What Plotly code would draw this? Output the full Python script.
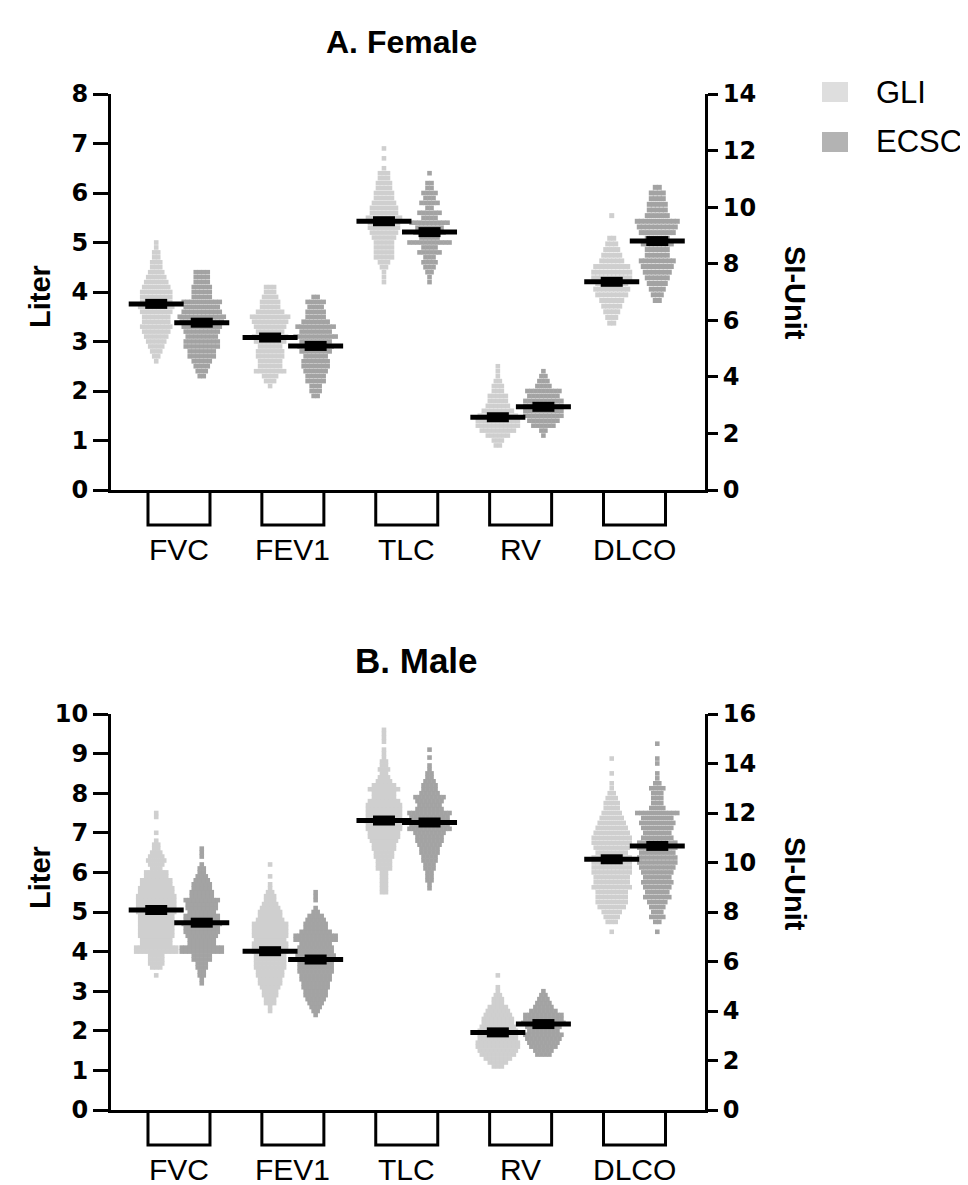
import plotly.graph_objects as go

# ---------------- data ----------------
categories = ["FVC", "FEV1", "TLC", "RV", "DLCO"]
groups = ["GLI", "ECSC"]

# Each swarm: lowest bin value, bin step, point counts per bin (bottom -> top)
# Female (Liter; DLCO in SI-Unit)
f_fvc_gli = (2.6, 0.1, [1,2,3,4,5,6,7,8,7,7,8,9,8,8,8,7,6,5,4,3,3,2,2,1,1])
f_fvc_ecsc = (2.3, 0.1, [2,3,4,5,7,7,9,9,8,9,10,11,12,10,9,10,5,5,5,4,4,4])
f_fev1_gli = (2.1, 0.1, [1,3,4,8,6,6,7,7,6,8,9,7,8,9,10,7,5,5,4,3,3])
f_fev1_ecsc = (1.9, 0.1, [2,3,3,5,5,6,7,7,6,8,9,8,11,8,10,7,5,5,4,5,2])
f_tlc_gli = (4.2, 0.1, [1,1,1,2,3,5,5,5,5,6,7,8,8,9,7,7,6,5,5,4,4,3,3,1,0,1,0,1])
f_tlc_ecsc = (4.2, 0.1, [1,1,2,3,4,3,6,4,11,5,8,7,10,4,6,2,5,3,4,2,2,0,1])
f_rv_gli = (0.9, 0.1, [2,3,6,9,11,11,10,8,6,5,5,3,3,2,1,1,1])
f_rv_ecsc = (1.1, 0.1, [1,2,6,8,10,10,10,10,8,9,4,3,2,1])
f_dlco_gli = (5.9, 0.2, [2,3,4,5,6,8,9,8,10,10,9,6,5,4,3,2,0,0,0,1])
f_dlco_ecsc = (6.7, 0.2, [2,3,4,5,6,7,8,9,6,6,8,6,9,10,11,6,5,5,4,4,2])

# Male
m_fvc_gli = (3.4, 0.1, [1,0,3,4,4,4,11,11,8,8,9,9,9,9,9,9,10,10,10,10,10,9,9,8,8,6,6,3,4,5,4,3,2,2,1,0,1,0,0,0,1,1])
m_fvc_ecsc = (3.2, 0.1, [1,1,2,2,3,3,5,5,11,11,7,7,8,9,9,10,9,9,7,8,8,9,6,6,5,5,4,3,2,2,1,0,1,1,1])
m_fev1_gli = (2.5, 0.1, [1,1,3,3,4,4,5,6,6,7,7,8,8,8,8,9,9,9,8,9,9,9,9,7,6,6,5,4,3,3,2,1,1,0,1,0,0,1])
m_fev1_ecsc = (2.4, 0.1, [1,2,3,4,5,6,6,7,7,8,8,9,9,9,10,10,9,9,8,11,11,8,6,6,5,4,2,1,0,1,1,1])
m_tlc_gli = (5.5, 0.1, [2,2,2,2,2,2,4,4,4,5,5,6,6,7,8,8,9,9,10,9,9,9,9,8,6,6,8,6,4,3,2,3,2,2,1,1,1,0,1,1,1,1])
m_tlc_ecsc = (5.6, 0.1, [1,1,2,2,2,3,3,4,4,5,5,6,7,7,8,11,10,10,10,11,7,6,7,8,5,4,4,3,2,2,1,1,0,1,0,1])
m_rv_gli = (1.1, 0.1, [3,5,7,9,10,11,11,10,10,10,9,8,8,7,6,5,3,3,2,1,1,0,0,1])
m_rv_ecsc = (1.4, 0.1, [4,5,7,8,9,10,8,9,11,10,10,7,5,4,3,2,1])
m_dlco_gli = (7.2, 0.2, [1,0,3,4,5,7,8,8,8,10,9,9,10,10,10,10,8,9,10,10,9,8,7,6,5,4,4,3,2,1,1,0,1,0,0,1])
m_dlco_ecsc = (7.2, 0.2, [1,0,2,4,3,4,5,7,6,7,8,7,8,9,10,10,9,10,10,8,7,8,9,8,11,4,3,3,3,4,2,1,1,0,1,1,0,0,1])

# Means (FVC..RV in Liter, DLCO in SI-Unit)
f_mean_gli = [3.76, 3.08, 5.43, 1.47, 7.36]
f_mean_ecsc = [3.38, 2.91, 5.21, 1.68, 8.80]
m_mean_gli = [5.05, 4.01, 7.31, 1.96, 10.13]
m_mean_ecsc = [4.73, 3.80, 7.26, 2.17, 10.67]

female = [[f_fvc_gli, f_fvc_ecsc], [f_fev1_gli, f_fev1_ecsc], [f_tlc_gli, f_tlc_ecsc],
          [f_rv_gli, f_rv_ecsc], [f_dlco_gli, f_dlco_ecsc]]
male = [[m_fvc_gli, m_fvc_ecsc], [m_fev1_gli, m_fev1_ecsc], [m_tlc_gli, m_tlc_ecsc],
        [m_rv_gli, m_rv_ecsc], [m_dlco_gli, m_dlco_ecsc]]

# ---------------- layout constants ----------------
W, H = 968, 1185
OFF = 8  # page body margin offset
X0_PX, X1_PX = 111 - OFF, 705 - OFF
XR = [-0.597, 4.619]
PX_PER_UNIT = (X1_PX - X0_PX) / (XR[1] - XR[0])
PAIR_OFF = 0.2
PT_PX = 4.0
COL_PTS = {"GLI": "#cfcfcf", "ECSC": "#a3a3a3"}
COL_LEG = {"GLI": "#dedede", "ECSC": "#b3b3b3"}
FONT = "Liberation Sans, Arial, sans-serif"
TICKFONT = "DejaVu Sans, sans-serif"

A_TOP, A_BOT = 94 - OFF, 490 - OFF
B_TOP, B_BOT = 714 - OFF, 1110 - OFF


def px(x):
    return (x - OFF) / W


def py(y):
    return 1 - (y - OFF) / H


def swarm(center, spec):
    lo, step, counts = spec
    xs, ys = [], []
    for i, n in enumerate(counts):
        v = round(lo + i * step, 3)
        for k in range(n):
            xs.append(center + (k - (n - 1) / 2) * PT_PX / PX_PER_UNIT)
            ys.append(v)
    return xs, ys


fig = go.Figure()


def add_panel(data, mean_gli, mean_ecsc, xa, ya_l, ya_r, msize_l, msize_r):
    for ci, pair in enumerate(data):
        ya = ya_r if categories[ci] == "DLCO" else ya_l
        ms = msize_r if categories[ci] == "DLCO" else msize_l
        for gi, g in enumerate(groups):
            c = ci + (-PAIR_OFF if gi == 0 else PAIR_OFF)
            xs, ys = swarm(c, pair[gi])
            fig.add_trace(go.Scatter(
                x=xs, y=ys, mode="markers", xaxis=xa, yaxis=ya, showlegend=False,
                marker=dict(symbol="square", size=ms, color=COL_PTS[g], line=dict(width=0)),
                hoverinfo="skip"))
    for ci in range(len(categories)):
        ya = ya_r if categories[ci] == "DLCO" else ya_l
        for gi, means in enumerate([mean_gli, mean_ecsc]):
            c = ci + (-PAIR_OFF if gi == 0 else PAIR_OFF)
            m = means[ci]
            hw = 27.5 / PX_PER_UNIT
            hc = 11 / PX_PER_UNIT
            fig.add_trace(go.Scatter(x=[c - hw, c + hw], y=[m, m], mode="lines", xaxis=xa, yaxis=ya,
                                     line=dict(color="black", width=5), showlegend=False, hoverinfo="skip"))
            fig.add_trace(go.Scatter(x=[c - hc, c + hc], y=[m, m], mode="lines", xaxis=xa, yaxis=ya,
                                     line=dict(color="black", width=10), showlegend=False, hoverinfo="skip"))


add_panel(female, f_mean_gli, f_mean_ecsc, "x", "y", "y2", 4.6, 5.0)
add_panel(male, m_mean_gli, m_mean_ecsc, "x2", "y3", "y4", 4.6, 4.6)

dom_x = [X0_PX / W, X1_PX / W]
dom_a = [1 - A_BOT / H, 1 - A_TOP / H]
dom_b = [1 - B_BOT / H, 1 - B_TOP / H]

tickfont = dict(family=TICKFONT, size=24, color="black", weight="bold")
xcommon = dict(range=XR, showline=True, linewidth=3, linecolor="black", showgrid=False,
               zeroline=False, showticklabels=False, ticks="", domain=dom_x, fixedrange=True,
               automargin=False)
ycommon = dict(showline=True, linewidth=3, linecolor="black", showgrid=False, zeroline=False,
               ticks="outside", tickwidth=3, tickcolor="black", tickfont=tickfont, fixedrange=True,
               automargin=False)

fig.update_layout(
    width=W, height=H, autosize=False,
    margin=dict(l=0, r=0, t=0, b=0, pad=0),
    plot_bgcolor="white", paper_bgcolor="white",
    showlegend=False,
    xaxis=dict(**xcommon, anchor="y"),
    yaxis=dict(**ycommon, domain=dom_a, range=[0, 8], dtick=1, ticklen=15, anchor="x"),
    yaxis2=dict(**ycommon, domain=dom_a, range=[0, 14], dtick=2, ticklen=10, side="right",
                overlaying="y", anchor="x"),
    xaxis2=dict(**xcommon, anchor="y3"),
    yaxis3=dict(**ycommon, domain=dom_b, range=[0, 10], dtick=1, ticklen=15, anchor="x2"),
    yaxis4=dict(**ycommon, domain=dom_b, range=[0, 16], dtick=2, ticklen=10, side="right",
                overlaying="y3", anchor="x2"),
)

# category brackets and labels
box_hw = 31 / PX_PER_UNIT
box_d = 35 / (A_BOT - A_TOP)
shapes = []
annotations = []
for xa, ya in [("x", "y"), ("x2", "y3")]:
    for ci, cat in enumerate(categories):
        x0, x1 = ci - box_hw, ci + box_hw
        shapes.append(dict(type="path", xref=xa, yref=f"{ya} domain",
                           path=f"M {x0},0 L {x0},{-box_d} L {x1},{-box_d} L {x1},0",
                           line=dict(color="black", width=3)))
        annotations.append(dict(x=ci, y=0, xref=xa, yref=f"{ya} domain", yshift=-59,
                                text=cat, showarrow=False, xanchor="center", yanchor="middle",
                                font=dict(family=FONT, size=30, color="black")))


def label(x, y, text, size, angle=0, xanchor="center", bold=False):
    annotations.append(dict(x=px(x), y=py(y), xref="paper", yref="paper",
                            text=f"<b>{text}</b>" if bold else text, textangle=angle,
                            showarrow=False, xanchor=xanchor, yanchor="middle",
                            font=dict(family=FONT, size=size, color="black")))


# titles
label(401, 42, "A. Female", 32, bold=True)
label(416, 660, "B. Male", 35, bold=True)
# axis titles
label(40, 297, "Liter", 29, angle=-90, bold=True)
label(40, 878, "Liter", 29, angle=-90, bold=True)
label(795, 293, "SI-Unit", 29, angle=90, bold=True)
label(795, 884, "SI-Unit", 29, angle=90, bold=True)

# legend
for g, yc in [("GLI", 92), ("ECSC", 142)]:
    shapes.append(dict(type="rect", xref="paper", yref="paper",
                       x0=px(822), x1=px(848), y0=py(yc + 10), y1=py(yc - 10),
                       fillcolor=COL_LEG[g], line=dict(width=0)))
    label(874, yc, g, 31, xanchor="left")

fig.update_layout(shapes=shapes, annotations=annotations)
fig.write_html("out.html")
